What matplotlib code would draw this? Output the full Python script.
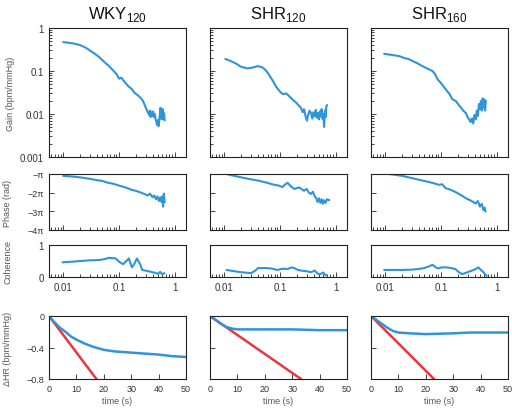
import numpy as np
import matplotlib
matplotlib.use("Agg")
import matplotlib.pyplot as plt
from matplotlib.ticker import LogLocator, NullFormatter, FixedLocator

plt.rcParams['font.family'] = ['Liberation Sans', 'DejaVu Sans']

titles = ["WKY", "SHR", "SHR"]
subs = ["120", "120", "160"]

# ---- Gain (bpm/mmHg) vs frequency (Hz)
wky_gain_f = [0.010, 0.013, 0.016, 0.020, 0.025, 0.030, 0.037, 0.044, 0.055, 0.066, 0.080, 0.090,
              0.100, 0.110, 0.120, 0.135, 0.150, 0.170, 0.190, 0.220, 0.250, 0.270, 0.290, 0.310,
              0.330, 0.345, 0.360, 0.370, 0.380, 0.395, 0.410, 0.425, 0.440, 0.455, 0.470, 0.485,
              0.500, 0.515, 0.530, 0.545, 0.555, 0.570, 0.585, 0.600, 0.615, 0.630, 0.645, 0.660]
wky_gain_v = [0.47, 0.45, 0.43, 0.40, 0.35, 0.30, 0.25, 0.21, 0.16, 0.13, 0.10, 0.085,
              0.066, 0.070, 0.060, 0.050, 0.043, 0.038, 0.031, 0.027, 0.023, 0.020, 0.016, 0.013,
              0.011, 0.0095, 0.012, 0.0085, 0.011, 0.009, 0.0115, 0.0085, 0.010, 0.0075, 0.0065, 0.0055,
              0.0072, 0.0052, 0.0075, 0.0105, 0.014, 0.011, 0.0075, 0.0095, 0.013, 0.0078, 0.0105, 0.0072]

shr120_gain_f = [0.0105, 0.013, 0.016, 0.020, 0.026, 0.032, 0.040, 0.049, 0.057, 0.064, 0.075,
                 0.085, 0.100, 0.112, 0.130, 0.146, 0.165, 0.190, 0.215, 0.236, 0.255, 0.270,
                 0.290, 0.305, 0.320, 0.340, 0.360, 0.380, 0.400, 0.420, 0.440, 0.460, 0.480,
                 0.500, 0.520, 0.540, 0.560, 0.580, 0.600, 0.620, 0.640, 0.660, 0.680, 0.700]
shr120_gain_v = [0.19, 0.17, 0.15, 0.125, 0.115, 0.12, 0.13, 0.12, 0.10, 0.080, 0.058,
                 0.043, 0.033, 0.029, 0.030, 0.026, 0.022, 0.019, 0.016, 0.014, 0.011, 0.013,
                 0.0085, 0.007, 0.0095, 0.012, 0.0105, 0.0078, 0.0110, 0.0088, 0.0125, 0.0082, 0.0105,
                 0.0075, 0.0115, 0.0088, 0.0130, 0.0078, 0.0100, 0.0050, 0.0120, 0.0085, 0.0150, 0.0160]

shr160_gain_f = [0.0096, 0.012, 0.015, 0.018, 0.022, 0.026, 0.031, 0.038, 0.046, 0.056, 0.070,
                 0.078, 0.086, 0.100, 0.120, 0.140, 0.160, 0.185, 0.210, 0.230, 0.250, 0.280,
                 0.300, 0.320, 0.340, 0.360, 0.380, 0.400, 0.420, 0.440, 0.460, 0.480, 0.500,
                 0.520, 0.540, 0.560, 0.580, 0.600, 0.620, 0.640]
shr160_gain_v = [0.25, 0.24, 0.23, 0.22, 0.20, 0.19, 0.17, 0.15, 0.13, 0.115, 0.10,
                 0.085, 0.065, 0.052, 0.038, 0.030, 0.022, 0.020, 0.016, 0.014, 0.012, 0.0105,
                 0.0085, 0.0075, 0.0065, 0.0080, 0.0060, 0.0095, 0.0075, 0.0120, 0.0090, 0.0170, 0.0130,
                 0.0200, 0.0120, 0.0230, 0.0140, 0.0220, 0.0120, 0.0200]

# ---- Phase (in units of pi, negative)
wky_phase_f = [0.010, 0.015, 0.020, 0.030, 0.040, 0.050, 0.060, 0.080, 0.100, 0.130, 0.170,
               0.200, 0.250, 0.300, 0.330, 0.360, 0.400, 0.430, 0.460, 0.490, 0.520, 0.550,
               0.580, 0.600, 0.620, 0.640, 0.660]
wky_phase_v = [-1.10, -1.14, -1.18, -1.26, -1.33, -1.37, -1.45, -1.53, -1.62, -1.72, -1.85,
               -1.90, -2.00, -2.10, -2.15, -2.05, -2.25, -2.15, -2.35, -2.20, -2.45, -2.25,
               -2.50, -2.20, -2.75, -2.05, -2.50]

shr120_phase_f = [0.0101, 0.014, 0.020, 0.028, 0.040, 0.055, 0.079, 0.095, 0.110, 0.125, 0.137,
                  0.155, 0.180, 0.220, 0.270, 0.300, 0.330, 0.360, 0.390, 0.420, 0.450, 0.470,
                  0.500, 0.530, 0.560, 0.590, 0.620, 0.660, 0.700, 0.760]
shr120_phase_v = [-0.98, -1.08, -1.18, -1.27, -1.35, -1.45, -1.58, -1.62, -1.70, -1.55, -1.47,
                  -1.65, -1.80, -1.72, -1.90, -1.80, -2.00, -2.07, -1.95, -2.20, -2.30, -2.50,
                  -2.30, -2.55, -2.35, -2.60, -2.40, -2.55, -2.35, -2.40]

shr160_phase_f = [0.0096, 0.014, 0.020, 0.030, 0.046, 0.065, 0.092, 0.105, 0.120, 0.150, 0.180,
                  0.220, 0.280, 0.330, 0.380, 0.420, 0.460, 0.500, 0.540, 0.580, 0.610, 0.630]
shr160_phase_v = [-0.98, -1.03, -1.10, -1.22, -1.35, -1.45, -1.58, -1.55, -1.75, -1.85, -1.96,
                  -2.10, -2.30, -2.40, -2.50, -2.58, -2.45, -2.75, -2.60, -2.93, -2.80, -3.00]

# ---- Coherence
wky_coh_f = [0.0097, 0.015, 0.020, 0.030, 0.044, 0.055, 0.066, 0.078, 0.087, 0.100, 0.118,
             0.135, 0.150, 0.170, 0.190, 0.210, 0.240, 0.260, 0.300, 0.340, 0.400, 0.450,
             0.500, 0.550, 0.600, 0.650]
wky_coh_v = [0.46, 0.48, 0.50, 0.52, 0.53, 0.56, 0.60, 0.59, 0.58, 0.48, 0.40,
             0.50, 0.58, 0.30, 0.42, 0.58, 0.40, 0.22, 0.20, 0.18, 0.15, 0.13,
             0.10, 0.16, 0.08, 0.12]

shr120_coh_f = [0.011, 0.015, 0.020, 0.030, 0.036, 0.040, 0.055, 0.068, 0.090, 0.110, 0.137,
                0.160, 0.180, 0.210, 0.240, 0.300, 0.360, 0.420, 0.480, 0.530, 0.600, 0.650, 0.700]
shr120_coh_v = [0.22, 0.18, 0.15, 0.12, 0.20, 0.28, 0.28, 0.27, 0.22, 0.26, 0.25,
                0.30, 0.28, 0.22, 0.20, 0.18, 0.15, 0.20, 0.10, 0.09, 0.14, 0.06, 0.05]

shr160_coh_f = [0.0096, 0.015, 0.020, 0.030, 0.040, 0.050, 0.060, 0.070, 0.086, 0.105, 0.130,
                0.160, 0.180, 0.210, 0.240, 0.290, 0.360, 0.420, 0.470, 0.520, 0.580, 0.620, 0.660]
shr160_coh_v = [0.22, 0.22, 0.22, 0.23, 0.25, 0.28, 0.33, 0.38, 0.27, 0.30, 0.30,
                0.27, 0.25, 0.15, 0.09, 0.14, 0.20, 0.25, 0.30, 0.22, 0.15, 0.08, 0.04]

# ---- Step response dHR (bpm/mmHg) vs time (s)
wky_t = [0, 2, 4, 6, 8, 10, 13, 16, 20, 24, 28, 32, 36, 40, 45, 50]
wky_hr = [0.0, -0.08, -0.15, -0.20, -0.26, -0.30, -0.35, -0.39, -0.43, -0.45, -0.46, -0.47, -0.48, -0.49, -0.51, -0.52]
shr120_t = [0, 2, 4, 6, 8, 10, 14, 20, 30, 40, 50]
shr120_hr = [0.0, -0.05, -0.10, -0.14, -0.16, -0.17, -0.17, -0.17, -0.17, -0.18, -0.18]
shr160_t = [0, 2, 4, 6, 8, 10, 14, 20, 30, 36, 40, 50]
shr160_hr = [0.0, -0.05, -0.10, -0.15, -0.19, -0.21, -0.22, -0.23, -0.22, -0.21, -0.21, -0.21]

red_t = [[0, 17.3], [0, 33.2], [0, 23.0]]
red_hr = [[0.0, -0.8], [0.0, -0.8], [0.0, -0.8]]

gain_f = [wky_gain_f, shr120_gain_f, shr160_gain_f]
gain_v = [wky_gain_v, shr120_gain_v, shr160_gain_v]
phase_f = [wky_phase_f, shr120_phase_f, shr160_phase_f]
phase_v = [wky_phase_v, shr120_phase_v, shr160_phase_v]
coh_f = [wky_coh_f, shr120_coh_f, shr160_coh_f]
coh_v = [wky_coh_v, shr120_coh_v, shr160_coh_v]
hr_t = [wky_t, shr120_t, shr160_t]
hr_v = [wky_hr, shr120_hr, shr160_hr]

W, H = 512, 410
fig = plt.figure(figsize=(W / 100, H / 100), dpi=100)

lefts = [49, 210, 371]
pw = 137
rows = {"gain": (29, 129), "phase": (175, 56), "coh": (246, 32), "hr": (317, 63)}

def box(x0, row):
    y0, h = rows[row]
    return [x0 / W, 1 - (y0 + h) / H, pw / W, h / H]

blue = "#3094d8"
red = "#e8383d"
tcol = "#333333"
lcol = "#555555"

def style(ax, ls=7):
    for s in ax.spines.values():
        s.set_linewidth(0.8)
        s.set_color("#222222")
    ax.tick_params(which="both", direction="in", top=False, right=False,
                   labelsize=ls, colors="#222222", labelcolor=tcol, width=0.6)
    ax.tick_params(which="major", length=3.5)
    ax.tick_params(which="minor", length=2)

def logx(ax, labels):
    ax.set_xscale("log")
    ax.set_xlim(0.0055, 1.6)
    ax.xaxis.set_major_locator(FixedLocator([0.01, 0.1, 1]))
    ax.xaxis.set_minor_locator(LogLocator(base=10, subs=np.arange(2, 10), numticks=20))
    ax.xaxis.set_minor_formatter(NullFormatter())
    if labels:
        ax.set_xticklabels(["0.01", "0.1", "1"])
    else:
        ax.set_xticklabels([])

for i in range(3):
    x0 = lefts[i]
    # gain
    ax = fig.add_axes(box(x0, "gain"))
    ax.plot(gain_f[i], gain_v[i], color=blue, lw=1.5)
    logx(ax, False)
    ax.set_yscale("log")
    ax.set_ylim(0.001, 1)
    ax.yaxis.set_major_locator(FixedLocator([0.001, 0.01, 0.1, 1]))
    ax.yaxis.set_minor_locator(LogLocator(base=10, subs=np.arange(2, 10), numticks=20))
    ax.yaxis.set_minor_formatter(NullFormatter())
    style(ax)
    if i == 0:
        ax.set_yticklabels(["0.001", "0.01", "0.1", "1"])
        ax.set_ylabel("Gain (bpm/mmHg)", fontsize=6.5, color=lcol)
        ax.yaxis.set_label_coords(-0.25, 0.5)
    else:
        ax.set_yticklabels([])
    ax.set_title(titles[i] + r"$_{\mathregular{" + subs[i] + "}}$", fontsize=12, pad=7, color="#111111")

    # phase
    ax = fig.add_axes(box(x0, "phase"))
    ax.plot(phase_f[i], phase_v[i], color=blue, lw=1.5)
    logx(ax, False)
    ax.set_ylim(-4, -1)
    ax.set_yticks([-4, -3, -2, -1])
    style(ax)
    if i == 0:
        ax.set_yticklabels(["\u22124\u03c0", "\u22123\u03c0", "\u22122\u03c0", "\u2212\u03c0"], fontsize=6.5)
        ax.set_ylabel("Phase (rad)", fontsize=6.5, color=lcol)
        ax.yaxis.set_label_coords(-0.27, 0.5)
    else:
        ax.set_yticklabels([])

    # coherence
    ax = fig.add_axes(box(x0, "coh"))
    ax.plot(coh_f[i], coh_v[i], color=blue, lw=1.5)
    logx(ax, True)
    ax.set_ylim(0, 1)
    ax.set_yticks([0, 1])
    style(ax)
    if i == 0:
        ax.set_yticklabels(["0", "1"])
        ax.set_ylabel("Coherence", fontsize=6.5, color=lcol)
        ax.yaxis.set_label_coords(-0.27, 0.5)
    else:
        ax.set_yticklabels([])

    # step response
    ax = fig.add_axes(box(x0, "hr"))
    ax.plot(red_t[i], red_hr[i], color=red, lw=1.8)
    ax.plot(hr_t[i], hr_v[i], color=blue, lw=1.8)
    ax.set_xlim(0, 50)
    ax.set_ylim(-0.8, 0)
    ax.set_xticks([0, 10, 20, 30, 40, 50])
    ax.set_yticks([-0.8, -0.4, 0])
    style(ax, ls=6.5)
    ax.set_xlabel("time (s)", fontsize=6.5, color=lcol, labelpad=2)
    if i == 0:
        ax.set_yticklabels(["\u22120.8", "\u22120.4", "0"])
        ax.set_ylabel("\u0394HR (bpm/mmHg)", fontsize=6.5, color=lcol)
        ax.yaxis.set_label_coords(-0.27, 0.5)
    else:
        ax.set_yticklabels([])

fig.savefig("out.png", dpi=100)
